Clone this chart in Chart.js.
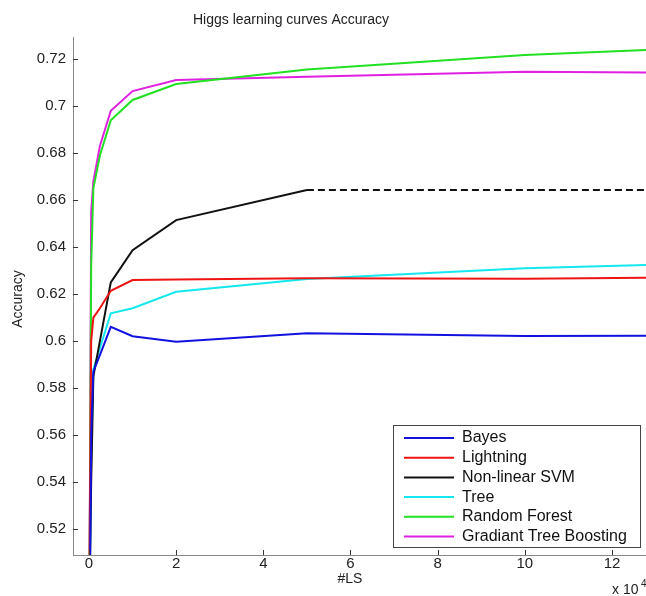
<!DOCTYPE html>
<html>
<head>
<meta charset="utf-8">
<script src="https://cdn.jsdelivr.net/npm/chart.js@4"></script>
<style>
  html, body { margin: 0; padding: 0; background: #fff; }
</style>
</head>
<body>
<canvas id="myChart" width="646" height="596"></canvas>
<script>
/* data: training set size (x 10^4) and accuracy per model */
const sizes   = [0.01, 0.05, 0.1, 0.25, 0.5, 1, 2, 5, 10, 13];
const bayes   = [0.47, 0.56, 0.587, 0.594, 0.6061, 0.6021, 0.5997, 0.6034, 0.6022, 0.6023];
const light   = [0.50, 0.600, 0.610, 0.614, 0.6214, 0.626, 0.6262, 0.6268, 0.6265, 0.627];
const svm     = [0.49, 0.54, 0.585, 0.600, 0.625, 0.6387, 0.6515, 0.6643, null, null];
const svmExt  = [null, null, null, null, null, null, null, 0.6643, 0.6643, 0.6643];
const tree    = [0.49, 0.55, 0.588, 0.597, 0.6118, 0.614, 0.621, 0.6264, 0.631, 0.6325];
const forest  = [0.49, 0.632, 0.665, 0.679, 0.694, 0.7026, 0.7094, 0.7156, 0.7217, 0.724];
const boost   = [0.49, 0.655, 0.668, 0.683, 0.698, 0.7064, 0.7111, 0.7125, 0.7146, 0.7143];

const xTicks = [0, 2, 4, 6, 8, 10, 12];
const yTicks = [0.52, 0.54, 0.56, 0.58, 0.6, 0.62, 0.64, 0.66, 0.68, 0.7, 0.72];

const FONT = '"Liberation Sans", Arial, sans-serif';

function pts(arr) {
  return sizes.map((x, i) => ({x: x, y: arr[i]})).filter(p => p.y !== null);
}

function line(label, arr, color, extra) {
  return Object.assign({
    label: label,
    data: pts(arr),
    borderColor: color,
    backgroundColor: color,
    borderWidth: 2,
    pointRadius: 0,
    fill: false,
    tension: 0
  }, extra || {});
}

/* inward tick marks like matlab */
const tickMarks = {
  id: 'tickMarks',
  afterDraw(chart) {
    const ctx = chart.ctx, a = chart.chartArea;
    const xs = chart.scales.x, ys = chart.scales.y;
    ctx.save();
    ctx.strokeStyle = '#333';
    ctx.lineWidth = 1;
    ctx.beginPath();
    xTicks.forEach(v => {
      const px = Math.round(xs.getPixelForValue(v)) + 0.5;
      ctx.moveTo(px, a.bottom);
      ctx.lineTo(px, a.bottom - 5);
    });
    yTicks.forEach(v => {
      const py = Math.round(ys.getPixelForValue(v)) + 0.5;
      ctx.moveTo(a.left, py);
      ctx.lineTo(a.left + 5, py);
    });
    ctx.stroke();
    ctx.restore();
  }
};

/* titles and labels */
const texts = {
  id: 'texts',
  afterDraw(chart) {
    const ctx = chart.ctx;
    ctx.save();
    ctx.fillStyle = '#222';
    ctx.textBaseline = 'middle';
    ctx.textAlign = 'center';
    ctx.font = '14px ' + FONT;
    ctx.fillText('Higgs learning curves Accuracy', 291, 20);
    ctx.fillText('#LS', 350, 579);
    ctx.save();
    ctx.translate(18, 299);
    ctx.rotate(-Math.PI / 2);
    ctx.fillText('Accuracy', 0, 0);
    ctx.restore();
    ctx.textAlign = 'left';
    ctx.fillText('x 10', 612, 590);
    ctx.font = '10px ' + FONT;
    ctx.fillText('4', 641, 584);
    ctx.restore();
  }
};

/* boxed legend in the lower right */
const boxLegend = {
  id: 'boxLegend',
  afterDraw(chart) {
    const ctx = chart.ctx;
    const items = chart.data.datasets.filter(d => !d.noLegend);
    const left = 393, top = 425, w = 247, h = 122, row = 19.7;
    ctx.save();
    ctx.fillStyle = '#fff';
    ctx.fillRect(left, top, w, h);
    ctx.strokeStyle = '#444';
    ctx.lineWidth = 1;
    ctx.strokeRect(left + 0.5, top + 0.5, w, h);
    ctx.font = '16px ' + FONT;
    ctx.textBaseline = 'middle';
    ctx.textAlign = 'left';
    items.forEach((d, i) => {
      const y = top + 13 + i * row;
      ctx.strokeStyle = d.borderColor;
      ctx.lineWidth = 2;
      ctx.beginPath();
      ctx.moveTo(404, y);
      ctx.lineTo(454, y);
      ctx.stroke();
      ctx.fillStyle = '#111';
      ctx.fillText(d.label, 462, y);
    });
    ctx.restore();
  }
};

const ctx = document.getElementById('myChart').getContext('2d');
const myChart = new Chart(ctx, {
  type: 'line',
  data: {
    datasets: [
      line('Bayes', bayes, '#1212e0'),
      line('Lightning', light, '#ee1414'),
      line('Non-linear SVM', svm, '#111111'),
      line('Tree', tree, '#14e8ee'),
      line('Random Forest', forest, '#22e022'),
      line('Gradiant Tree Boosting', boost, '#e020e0'),
      line('', svmExt, '#111111', {borderDash: [7, 4], noLegend: true})
    ]
  },
  options: {
    responsive: false,
    animation: false,
    layout: {padding: {top: 37, right: 0, left: 0, bottom: 0}},
    plugins: {
      legend: {display: false},
      tooltip: {enabled: false},
      title: {display: false}
    },
    scales: {
      x: {
        type: 'linear',
        min: -0.367,
        max: 12.78,
        grid: {display: false},
        border: {display: true, color: '#888', width: 1},
        afterBuildTicks: s => { s.ticks = xTicks.map(v => ({value: v})); },
        afterFit: s => { s.height = 41; },
        ticks: {
          padding: -8,
          color: '#222',
          font: {family: FONT, size: 15},
          maxRotation: 0,
          callback: v => String(v)
        }
      },
      y: {
        type: 'linear',
        min: 0.509,
        max: 0.7294,
        grid: {display: false},
        border: {display: true, color: '#888', width: 1},
        afterBuildTicks: s => { s.ticks = yTicks.map(v => ({value: v})); },
        afterFit: s => { s.width = 73; },
        ticks: {
          padding: -1,
          color: '#222',
          font: {family: FONT, size: 15},
          callback: v => String(Number(v.toFixed(2)))
        }
      }
    }
  },
  plugins: [tickMarks, texts, boxLegend]
});
</script>
</body>
</html>
